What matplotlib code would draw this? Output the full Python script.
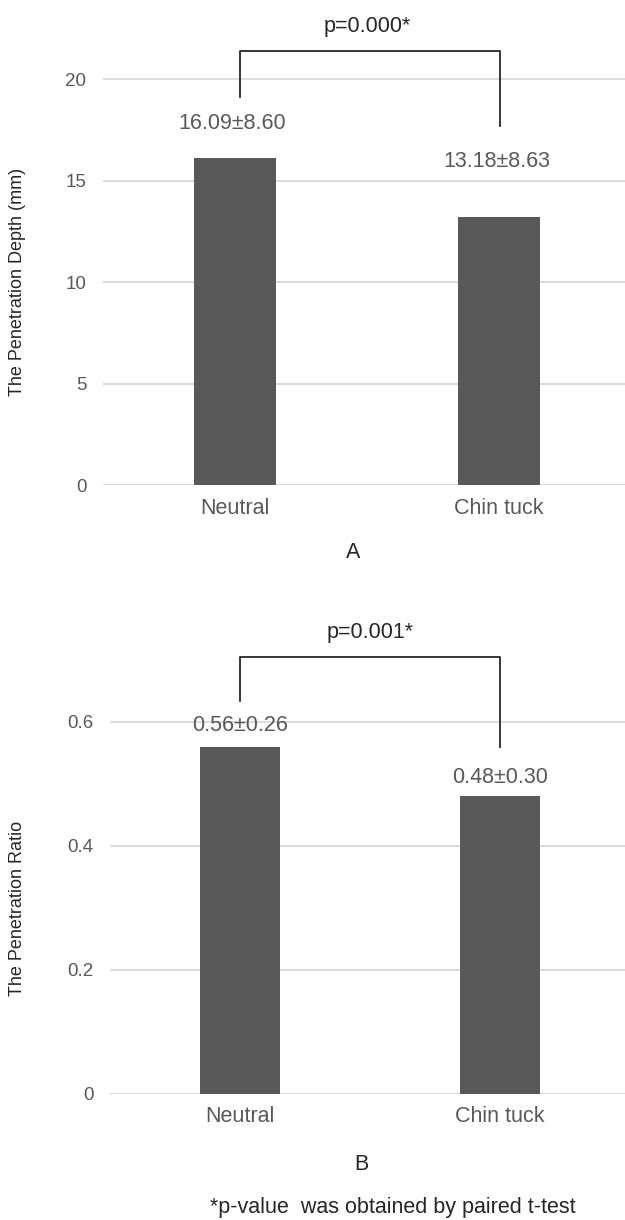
import matplotlib
matplotlib.use("Agg")
import matplotlib.pyplot as plt

plt.rcParams['font.family'] = ['Liberation Sans', 'DejaVu Sans']

categories = ["Neutral", "Chin tuck"]
depth_mean = [16.09, 13.18]
depth_sd = [8.60, 8.63]
ratio_mean = [0.56, 0.48]
ratio_sd = [0.26, 0.30]
depth_p = "p=0.000*"
ratio_p = "p=0.001*"
depth_ticks = [0, 5, 10, 15, 20]
ratio_ticks = [0, 0.2, 0.4, 0.6]
ratio_tick_labels = ["0", "0.2", "0.4", "0.6"]

W, H = 625, 1220
fig = plt.figure(figsize=(W / 100, H / 100), dpi=100)
TXT = "#595959"
BAR = "#595959"
GRID = "#d9d9d9"
LINE = "#262626"
FS = 15.5


def px_axes(left, right, bottom, top):
    return fig.add_axes([left / W, (H - bottom) / H, (right - left) / W, (bottom - top) / H])


def style(ax, ticks, labels):
    for s in ax.spines.values():
        s.set_visible(False)
    ax.set_yticks(ticks)
    ax.set_yticklabels(labels)
    ax.yaxis.grid(True, color=GRID, linewidth=1.3)
    ax.set_axisbelow(True)
    ax.tick_params(axis='y', length=0, pad=12, labelsize=13.5, labelcolor=TXT)
    ax.tick_params(axis='x', length=0, pad=9, labelsize=FS, labelcolor=TXT)


x = list(range(len(categories)))

# ---- Panel A ----
ax1 = px_axes(103, 625, 485, 485 - 23.5 * 20.3)
ax1.bar(x, depth_mean, width=0.31, color=BAR, zorder=2)
ax1.set_xlim(-0.5, 1.477)
ax1.set_ylim(0, 23.5)
style(ax1, depth_ticks, [str(t) for t in depth_ticks])
ax1.set_xticks(x)
ax1.set_xticklabels(categories)
lab_y1 = [17.83, 15.96]
for i in x:
    ax1.text(i - 0.01, lab_y1[i], f"{depth_mean[i]:.2f}±{depth_sd[i]:.2f}", ha='center', va='center',
             fontsize=FS, color=TXT)
ax1.plot([0.02, 0.02, 1.005, 1.005], [19.11, 21.39, 21.39, 17.68], color=LINE, lw=1.3, clip_on=False)
ax1.text(0.5, 22.6, depth_p, ha='center', va='center', fontsize=FS, color="#262626")
fig.text(18 / W, 1 - 282 / H, "The Penetration Depth (mm)", rotation=90, ha='center', va='center',
         fontsize=13, color="#262626")
fig.text(353 / W, 1 - 553 / H, "A", ha='center', va='center', fontsize=FS, color="#262626")

# ---- Panel B ----
ax2 = px_axes(110, 625, 1094, 1094 - 0.78 * 620)
ax2.bar(x, ratio_mean, width=0.31, color=BAR, zorder=2)
ax2.set_xlim(-0.5, 1.48)
ax2.set_ylim(0, 0.78)
style(ax2, ratio_ticks, ratio_tick_labels)
ax2.set_xticks(x)
ax2.set_xticklabels(categories)
lab_y2 = [0.595, 0.511]
for i in x:
    ax2.text(i, lab_y2[i], f"{ratio_mean[i]:.2f}±{ratio_sd[i]:.2f}", ha='center', va='center',
             fontsize=FS, color=TXT)
ax2.plot([0.0, 0.0, 1.0, 1.0], [0.634, 0.705, 0.705, 0.56], color=LINE, lw=1.3, clip_on=False)
ax2.text(0.5, 0.744, ratio_p, ha='center', va='center', fontsize=FS, color="#262626")
fig.text(18 / W, 1 - 908 / H, "The Penetration Ratio", rotation=90, ha='center', va='center',
         fontsize=13, color="#262626")
fig.text(361 / W, 1 - 1165 / H, "B", ha='center', va='center', fontsize=FS, color="#262626")
fig.text(393 / W, 1 - 1207 / H, "*p-value  was obtained by paired t-test", ha='center', va='center',
         fontsize=FS, color="#262626")

fig.savefig("out.png", dpi=100)
